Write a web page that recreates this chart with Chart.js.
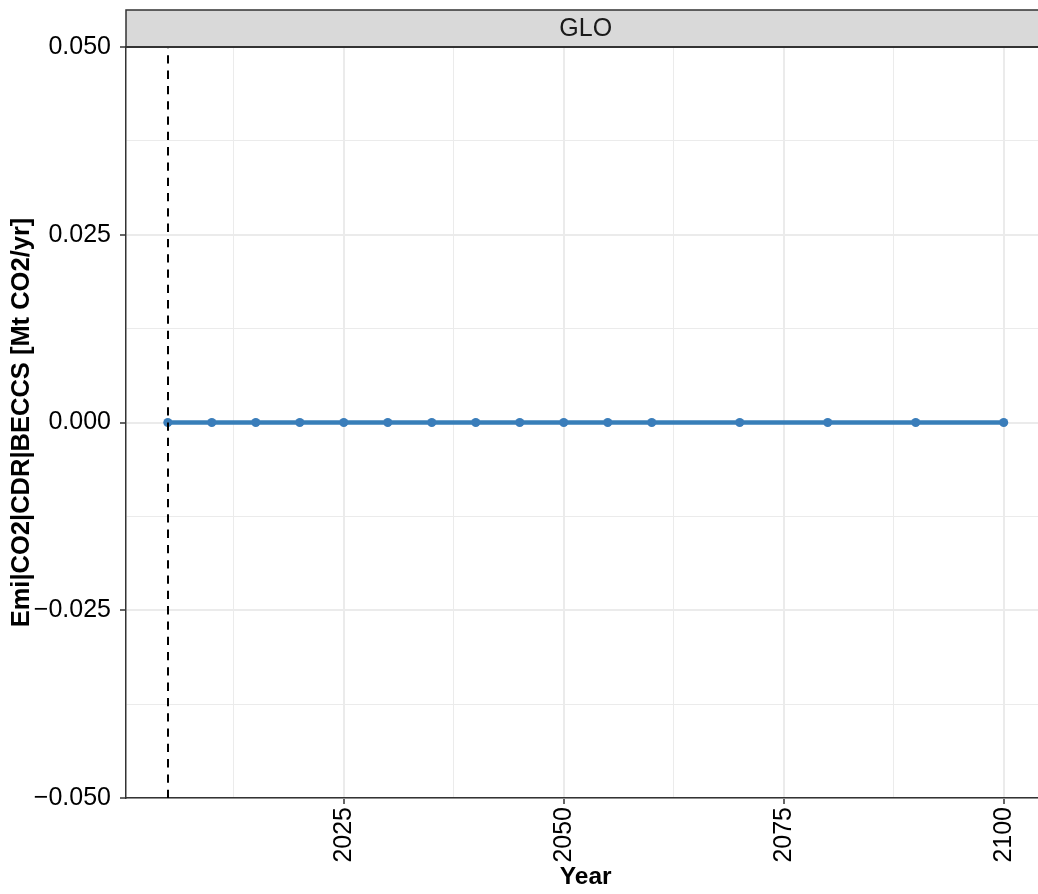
<!DOCTYPE html>
<html>
<head>
<meta charset="utf-8">
<script src="https://cdn.jsdelivr.net/npm/chart.js@4.4.0/dist/chart.umd.min.js"></script>
<style>
  html, body { margin: 0; padding: 0; background: #fff; overflow: hidden; }
  #wrap { width: 1050px; height: 894px; }
</style>
</head>
<body>
<div id="wrap"><canvas id="chart" width="1050" height="894"></canvas></div>
<script>
const years = [2005, 2010, 2015, 2020, 2025, 2030, 2035, 2040, 2045, 2050, 2055, 2060, 2070, 2080, 2090, 2100];
const beccs = [0, 0, 0, 0, 0, 0, 0, 0, 0, 0, 0, 0, 0, 0, 0, 0];
const region = "GLO";
const xMajorTicks = [2025, 2050, 2075, 2100];
const xMinorTicks = [2012.5, 2037.5, 2062.5, 2087.5];
const yMajorTicks = [-0.05, -0.025, 0, 0.025, 0.05];
const yMinorTicks = [-0.0375, -0.0125, 0.0125, 0.0375];
const xRange = [2000.25, 2104.75];
const yRange = [-0.05, 0.05];
const refYear = 2005;

const FONT = "'Liberation Sans', Arial, sans-serif";

function isMajor(list, v) {
  return list.some(t => Math.abs(t - v) < 1e-9);
}

function buildTicks(major, minor) {
  return major.concat(minor).sort((a, b) => a - b).map(v => ({ value: v }));
}

// facet strip on top of the panel
const stripPlugin = {
  id: 'strip',
  afterDraw(chart) {
    const { ctx, chartArea } = chart;
    const top = 10, bottom = chartArea.top;
    ctx.save();
    ctx.fillStyle = '#D9D9D9';
    ctx.fillRect(chartArea.left, top, chartArea.right - chartArea.left, bottom - top);
    ctx.strokeStyle = '#333333';
    ctx.lineWidth = 1.5;
    ctx.strokeRect(chartArea.left, top, chartArea.right - chartArea.left, bottom - top);
    ctx.lineWidth = 2;
    ctx.beginPath();
    ctx.moveTo(chartArea.left, bottom);
    ctx.lineTo(chartArea.right, bottom);
    ctx.stroke();
    ctx.fillStyle = '#1A1A1A';
    ctx.font = '25px ' + FONT;
    ctx.textAlign = 'center';
    ctx.textBaseline = 'middle';
    ctx.fillText(region, (chartArea.left + chartArea.right) / 2, (top + bottom) / 2 + 1);
    ctx.restore();
  }
};

// dashed reference line at the base year
const vlinePlugin = {
  id: 'vline',
  afterDatasetsDraw(chart) {
    const { ctx, chartArea, scales } = chart;
    const x = Math.round(scales.x.getPixelForValue(refYear));
    ctx.save();
    ctx.strokeStyle = '#000';
    ctx.lineWidth = 2;
    ctx.setLineDash([8.3, 7]);
    ctx.beginPath();
    ctx.moveTo(x, chartArea.bottom);
    ctx.lineTo(x, chartArea.top);
    ctx.stroke();
    ctx.restore();
  }
};

new Chart(document.getElementById('chart'), {
  type: 'line',
  data: {
    datasets: [{
      label: region,
      data: years.map((y, i) => ({ x: y, y: beccs[i] })),
      borderColor: '#377EB8',
      backgroundColor: '#377EB8',
      borderWidth: 4.5,
      pointRadius: 4.5,
      pointBorderWidth: 0,
      pointBackgroundColor: '#3A7DBA',
      fill: false,
      tension: 0
    }]
  },
  options: {
    responsive: false,
    animation: false,
    layout: { padding: { top: 47, left: 0, right: 0, bottom: 0 } },
    plugins: {
      legend: { display: false },
      tooltip: { enabled: false }
    },
    scales: {
      x: {
        type: 'linear',
        min: xRange[0],
        max: xRange[1],
        afterBuildTicks: axis => { axis.ticks = buildTicks(xMajorTicks, xMinorTicks); },
        afterFit: axis => {
          axis.height = 96;
          axis.paddingLeft = 0;
          axis.paddingRight = 0;
        },
        border: { color: '#333333', width: 1.5 },
        grid: {
          color: '#EBEBEB',
          lineWidth: c => isMajor(xMajorTicks, c.tick.value) ? 2 : 1,
          tickColor: c => isMajor(xMajorTicks, c.tick.value) ? '#333333' : 'rgba(0,0,0,0)',
          tickLength: 6,
          tickWidth: 1.5
        },
        ticks: {
          autoSkip: false,
          minRotation: 90,
          maxRotation: 90,
          padding: 3,
          color: '#000',
          font: { family: FONT, size: 25 },
          callback: v => isMajor(xMajorTicks, v) ? String(v) : ''
        },
        title: {
          display: true,
          text: 'Year',
          color: '#000',
          font: { family: FONT, size: 24.5, weight: 'bold' },
          padding: { top: 0, bottom: 2 }
        }
      },
      y: {
        type: 'linear',
        min: yRange[0],
        max: yRange[1],
        afterBuildTicks: axis => { axis.ticks = buildTicks(yMajorTicks, yMinorTicks); },
        afterFit: axis => { axis.width = 126; },
        border: { color: '#333333', width: 1.5 },
        grid: {
          color: '#EBEBEB',
          lineWidth: c => isMajor(yMajorTicks, c.tick.value) ? 2 : 1,
          tickColor: c => isMajor(yMajorTicks, c.tick.value) ? '#333333' : 'rgba(0,0,0,0)',
          tickLength: 6,
          tickWidth: 1.5
        },
        ticks: {
          autoSkip: false,
          padding: 9,
          color: '#000',
          font: { family: FONT, size: 25 },
          callback: v => isMajor(yMajorTicks, v) ? v.toFixed(3).replace('-', '\u2212') : ''
        },
        title: {
          display: true,
          text: 'Emi|CO2|CDR|BECCS [Mt CO2/yr]',
          color: '#000',
          font: { family: FONT, size: 25.5, weight: 'bold' },
          padding: { top: 7, bottom: 0 }
        }
      }
    }
  },
  plugins: [stripPlugin, vlinePlugin]
});
</script>
</body>
</html>
